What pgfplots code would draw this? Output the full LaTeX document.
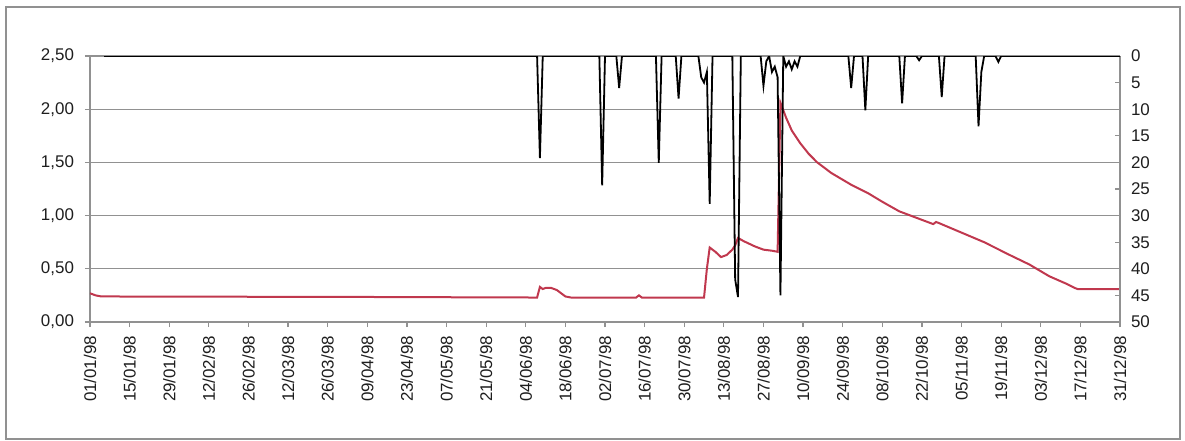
\documentclass[border=0pt]{standalone}
\usepackage{fontspec}
\setmainfont{Liberation Sans}
\usepackage{pgfplots}
\pgfplotsset{compat=1.18}
\definecolor{niveau}{RGB}{192,56,78}
\definecolor{grille}{RGB}{145,145,145}
\definecolor{texte}{RGB}{30,30,30}

% niveau (m) par jour de l'annee 1998 (0 = 01/01/98)
\pgfplotstableread{
jour niveau
0 0.27
2 0.25
4 0.24
100 0.235
158 0.23
159 0.33
160 0.31
161 0.32
163 0.32
165 0.30
168 0.24
170 0.23
193 0.23
194 0.25
195 0.23
217 0.23
218 0.50
219 0.70
221 0.66
223 0.61
225 0.63
227 0.68
228 0.72
229 0.79
231 0.76
235 0.71
238 0.68
241 0.67
243 0.66
244 2.06
246 1.92
248 1.80
251 1.68
254 1.58
257 1.50
262 1.40
269 1.29
272 1.25
275 1.21
280 1.13
286 1.04
292 0.98
297 0.93
298 0.92
299 0.94
300 0.93
308 0.84
316 0.75
325 0.63
332 0.54
339 0.43
345 0.36
348 0.32
349 0.31
364 0.31
}\niveau

% pluie (mm), axe inverse
\pgfplotstableread{
jour pluie
5 0
158 0
159 19.2
160 0
180 0
181 24.3
182 0
186 0
187 6
188 0
200 0
201 20.1
202 0
207 0
208 8
209 0
215 0
216 4
217 5
218 3
219 27.8
220 0
227 0
228 42
229 45.3
230 0
237 0
238 5.6
239 1
240 0
241 3
242 2
243 4
244 45
245 0
246 2
247 1
248 2.5
249 1
250 2
251 0
268 0
269 6
270 0
273 0
274 10.2
275 0
286 0
287 8.9
288 0
292 0
293 0.8
294 0
300 0
301 7.7
302 0
313 0
314 13.2
315 3
316 0
320 0
321 1.1
322 0
364 0
}\pluie

\begin{document}
\begin{tikzpicture}
\pgfplotsset{
  commun/.style={
    at={(0,0)}, anchor=south west,
    scale only axis, width=515bp, height=133bp,
    xmin=0, xmax=364,
    axis line style={grille, line width=0.6bp},
    tick style={grille, line width=0.6bp},
    major tick length=2.5bp,
    ticklabel style={font=\fontsize{8.5}{10}\selectfont, text=texte},
  }
}
\begin{axis}[
  commun,
  ymin=0, ymax=2.5,
  axis x line*=bottom, axis y line*=left,
  tick align=outside,
  ymajorgrids, grid style={grille, line width=0.6bp},
  ytick={0,0.5,1,1.5,2,2.5},
  yticklabels={{0,00},{0,50},{1,00},{1,50},{2,00},{2,50}},
  yticklabel style={xshift=-2bp},
  xtick={0,14,...,364},
  xticklabels={01/01/98,15/01/98,29/01/98,12/02/98,26/02/98,12/03/98,26/03/98,09/04/98,23/04/98,07/05/98,21/05/98,04/06/98,18/06/98,02/07/98,16/07/98,30/07/98,13/08/98,27/08/98,10/09/98,24/09/98,08/10/98,22/10/98,05/11/98,19/11/98,03/12/98,17/12/98,31/12/98},
  xticklabel style={rotate=90, anchor=east, xshift=-1bp},
]
\addplot[niveau, line width=1bp, no markers] table[x=jour, y=niveau] {\niveau};
\end{axis}
\begin{axis}[
  commun,
  ymin=0, ymax=50, y dir=reverse,
  axis x line=none, axis y line*=right,
  tick align=inside,
  ytick={0,5,...,50},
  yticklabels={0,5,10,15,20,25,30,35,40,45,50},
  yticklabel style={xshift=2bp},
]
\addplot[black, line width=0.9bp, no markers] table[x=jour, y=pluie] {\pluie};
\end{axis}
\draw[grille, line width=0.6bp] (-42bp,-58.5bp) rectangle (545bp,157.5bp);
\pgfresetboundingbox
\path[use as bounding box] (-45bp,-59.5bp) rectangle (547.5bp,161bp);
\end{tikzpicture}
\end{document}
